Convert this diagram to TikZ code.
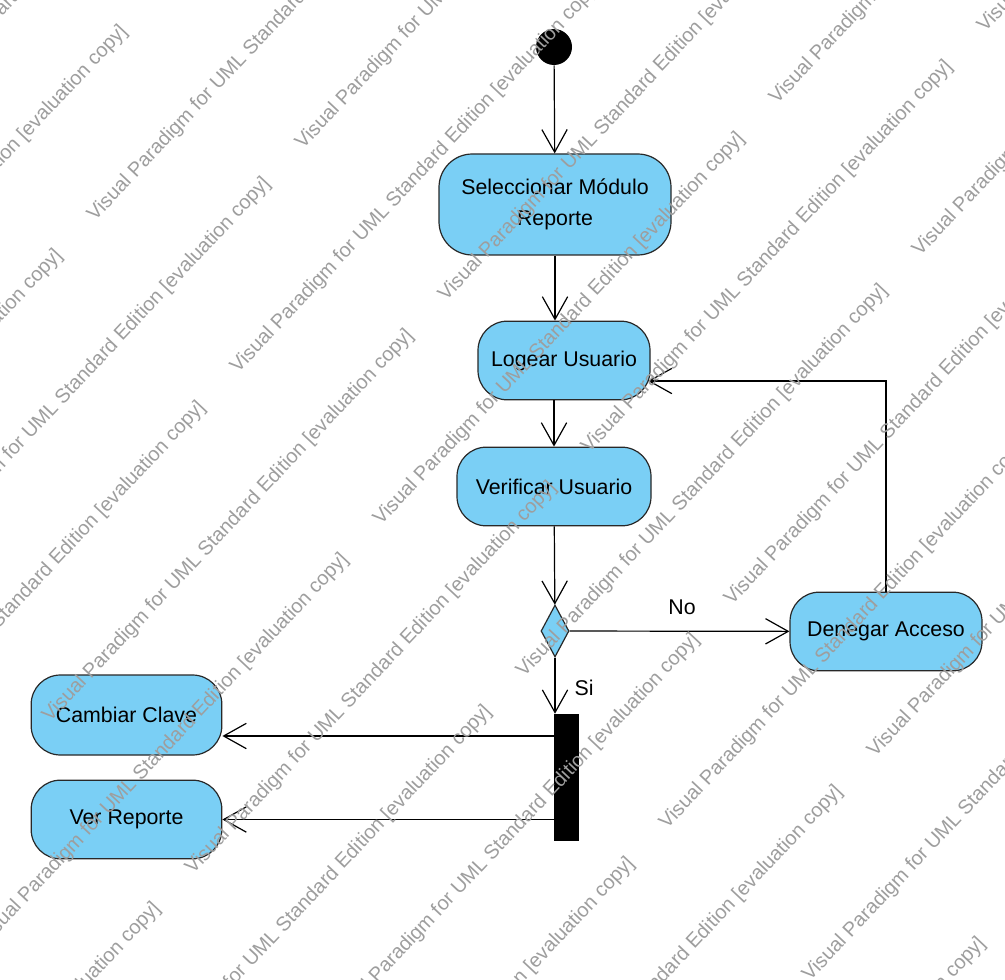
\documentclass[tikz,border=0pt]{standalone}
\usepackage{fontspec}
\setmainfont{Liberation Sans}
\usepackage{tikz}
\usetikzlibrary{calc, arrows.meta, shapes.geometric}
\definecolor{actfill}{RGB}{122,207,245}
\definecolor{actline}{RGB}{40,40,40}
\newcommand{\vpmark}{Visual Paradigm for UML Standard Edition [evaluation copy]}
\begin{document}
\begin{tikzpicture}[x=0.75pt, y=-0.75pt,
        act/.style={draw=actline, fill=actfill, line width=0.9pt, rounded corners=22pt,
            minimum height=59pt, inner sep=2pt, align=center,
            font=\fontsize{16}{23}\selectfont},
        flow/.style={draw=black, line width=0.9pt,
            -{Straight Barb[length=17pt, width=19pt, line width=0.9pt]}},
        lbl/.style={font=\fontsize{16}{20}\selectfont, inner sep=0pt},
        wmark/.style={anchor=base west, rotate=46.75, inner sep=0pt, text=black!38,
            font=\fontsize{15}{17}\selectfont}]
                \useasboundingbox (0,0) rectangle (1005,980);
                \fill[white] (0,0) rectangle (1005,980);
                \node[circle, fill=black, minimum size=27pt, inner sep=0pt] (ini) at (554,47) {};
                \node[act, minimum width=174pt, minimum height=75.75pt, rounded corners=25pt] (sel) at (555,204.5) {Seleccionar Módulo\\Reporte};
                \node[act, minimum width=129pt] (logear) at (564,360.5) {Logear Usuario};
                \node[act, minimum width=145.5pt] (verif) at (554,486.5) {Verificar Usuario};
                \node[diamond, draw=actline, fill=actfill, line width=0.9pt, minimum width=21pt, minimum height=39pt, inner sep=0pt] (dec) at (555,631) {};
                \node[act, minimum width=144pt] (deneg) at (886,631.5) {Denegar Acceso};
                \node[rectangle, fill=black, minimum width=18.75pt, minimum height=95.25pt, inner sep=0pt] (bar) at (566.5,777.5) {};
                \node[act, minimum width=143pt, minimum height=60pt] (camb) at (126.5,715) {Cambiar Clave};
                \node[act, minimum width=143pt] (ver) at (126.5,819.5) {Ver Reporte};
                \coordinate (ret) at (648,381);
                \coordinate (cc) at (0,736);
                \draw[flow] (ini) -- (sel);
                \draw[flow] (sel.south) -- (sel.south |- logear.north);
                \draw[flow] (verif.north |- logear.south) -- (verif.north);
                \draw[flow] (verif) -- (dec);
                \draw[flow] (dec) -- (deneg);
                \node[lbl] (no) at (682,607) {No};
                \draw[flow] (dec) -- (dec |- bar.north);
                \node[lbl] (si) at (584,688) {Si};
                \draw[flow] (deneg.north) |- (ret);
                \draw[flow] (bar.west |- cc) -- (camb.east |- cc);
                \draw[flow] (bar.west |- ver.east) -- (ver.east);
                \begin{scope}
                    \clip (0,0) rectangle (1005,980);
                    \foreach \i/\j in {-1/0, 0/-1, 0/0, 1/-1, 1/0, 2/-1, 2/0, 2/1, 3/-1, 3/0, 3/1, 4/-1, 4/0, 5/0}
                        \node[wmark] (wa\i\j) at ($(95,222)+\i*(143,152)+\j*(396,-421)$) {\vpmark};
                    \foreach \i/\j in {-1/-1, 0/-1, 0/0, 1/-1, 1/0, 2/-2, 2/-1, 2/0, 2/1, 3/-1, 3/0, 4/-1, 4/0, 5/-1}
                        \node[wmark] (wb\i\j) at ($(303,150)+\i*(143,152)+\j*(396,-421)$) {\vpmark};
                \end{scope}
            \end{tikzpicture}
\end{document}
